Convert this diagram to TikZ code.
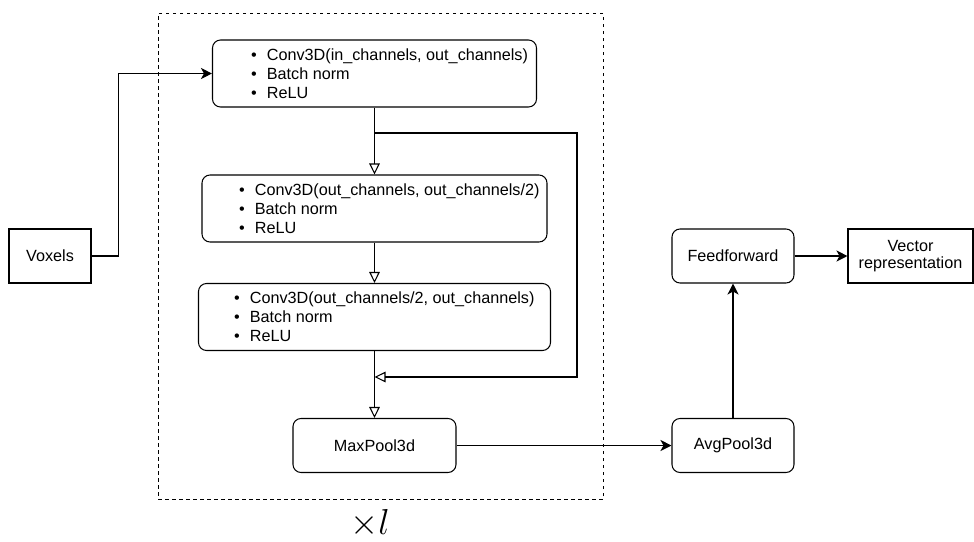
\documentclass[tikz,border=0pt]{standalone}
\usepackage{fontspec}
\setmainfont{Liberation Sans}
\usetikzlibrary{arrows.meta}
\tikzset{
  x=1pt, y=-1pt,
  every node/.style={font=\fontsize{16.2}{19}\selectfont},
  rbox/.style={draw, line width=1.05pt, rounded corners=8pt, inner sep=0pt},
  sbox/.style={draw, line width=1.05pt, inner sep=0pt, align=center},
  btext/.style={anchor=west, inner sep=0pt, align=left},
  conn/.style={line width=1.05pt},
  arr/.style={conn, -{Stealth[length=11pt, width=11pt, inset=3pt]}},
  oarr/.style={conn, -{Triangle[open, length=11pt, width=10.5pt]}},
  frame/.style={draw, line width=1pt, dash pattern=on 3.5pt off 3.5pt, inner sep=0pt}
}
\newcommand{\bul}{\textbullet\hspace{10pt}}
\begin{document}
\begin{tikzpicture}
\useasboundingbox (0,0) rectangle (974,541);
\node[frame, minimum width=445pt, minimum height=486pt] (frame) at (380.5,256) {};

\node[sbox, minimum width=82pt, minimum height=54pt] (vox) at (50,256) {Voxels};

\node[rbox, minimum width=324pt, minimum height=67pt] (c1) at (374.5,73.5) {};
\node[btext] (c1t) at (251,73.5) {\bul Conv3D(in\_channels, out\_channels)\\\bul Batch norm\\\bul ReLU};

\node[rbox, minimum width=345pt, minimum height=67pt] (c2) at (374.5,208.5) {};
\node[btext] (c2t) at (239,208.5) {\bul Conv3D(out\_channels, out\_channels/2)\\\bul Batch norm\\\bul ReLU};

\node[rbox, minimum width=352pt, minimum height=67pt] (c3) at (374.5,317) {};
\node[btext] (c3t) at (234,317) {\bul Conv3D(out\_channels/2, out\_channels)\\\bul Batch norm\\\bul ReLU};

\node[rbox, minimum width=163pt, minimum height=54pt] (mp) at (374.5,445.5) {MaxPool3d};
\node[rbox, minimum width=122pt, minimum height=54pt] (avg) at (733,445.5) {AvgPool3d};
\node[rbox, minimum width=122pt, minimum height=54pt] (ff) at (733,256) {Feedforward};
\node[sbox, minimum width=125pt, minimum height=54pt] (vec) at (910.5,256) {Vector\\[-2pt]representation};

\node[anchor=base, inner sep=0pt, font=\Huge, scale=1.45] (times) at (370,534) {$\times l$};

\coordinate (fb) at (374.5,133);
\coordinate (fbend) at (374.5,377);

\draw[arr] (vox.east) -- ++(27,0) |- (c1.west);
\draw[oarr] (c1.south) -- (c2.north);
\draw[conn] (fb) -- (577,133) -- (577,377) -- ++(-10,0);
\draw[oarr] (577,377) -- (fbend);
\draw[oarr] (c2.south) -- (c3.north);
\draw[oarr] (c3.south) -- (mp.north);
\draw[arr] (mp.east) -- (avg.west);
\draw[arr] (avg.north) -- (ff.south);
\draw[arr] (ff.east) -- (vec.west);
\end{tikzpicture}
\end{document}
